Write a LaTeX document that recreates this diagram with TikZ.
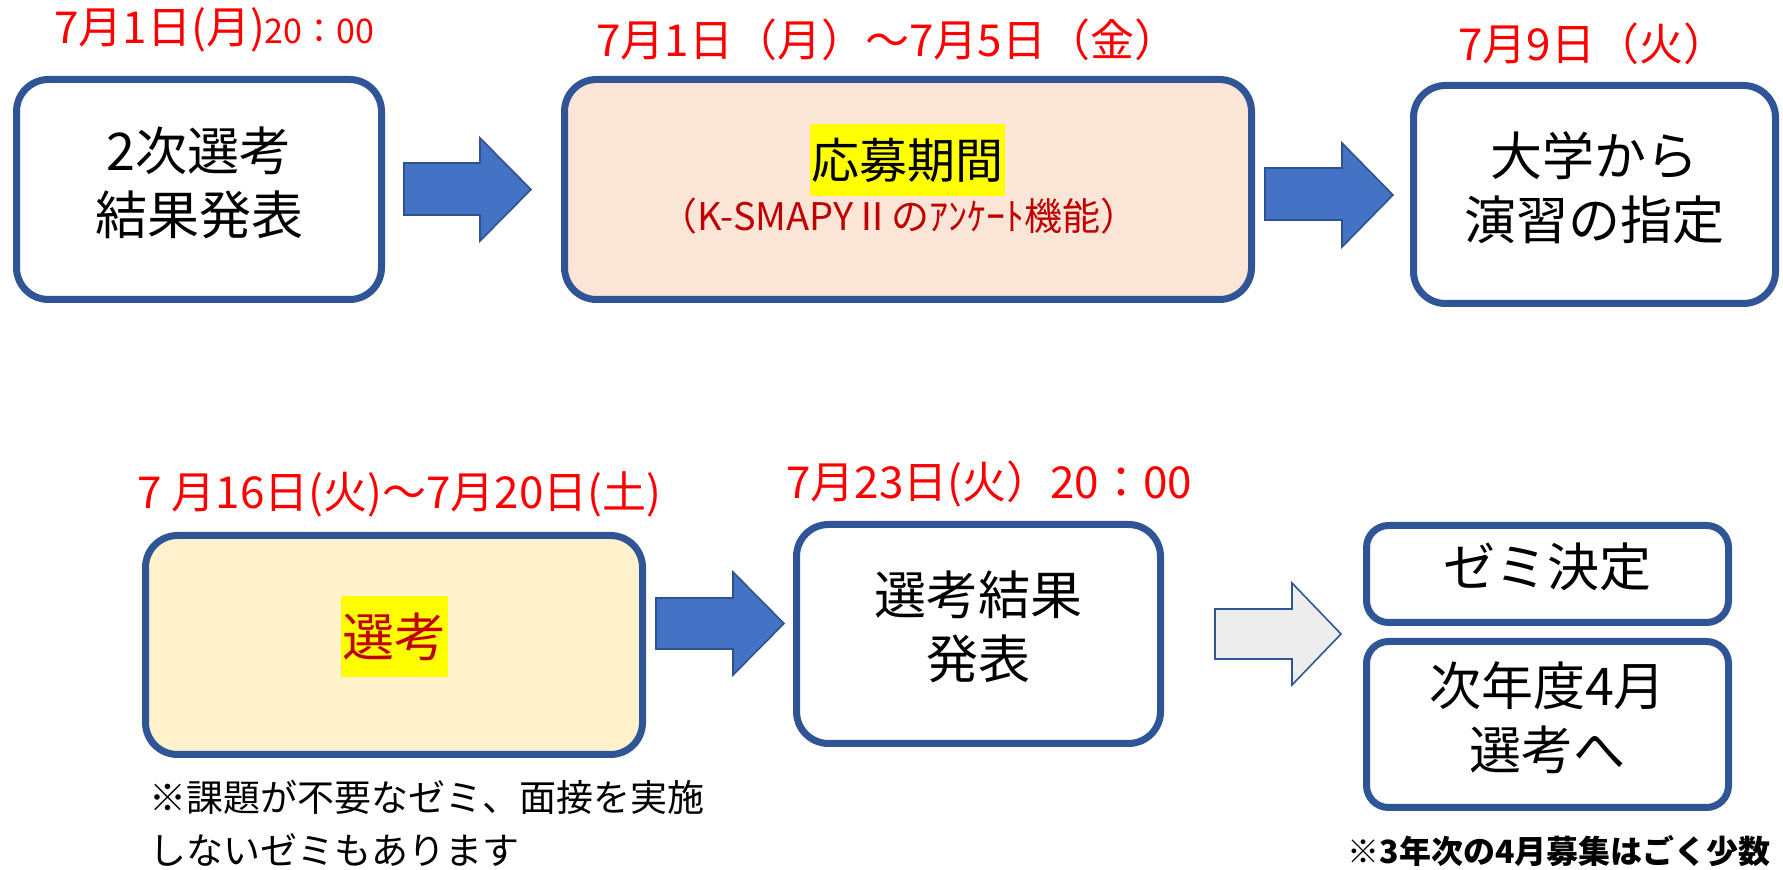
\documentclass[tikz,border=0pt]{standalone}
\usepackage{fontspec}
\setmainfont{Noto Sans CJK JP}
\definecolor{boxblue}{HTML}{2F5597}
\definecolor{arrowfill}{HTML}{4472C4}
\definecolor{arrowline}{HTML}{2F528F}
\definecolor{peach}{HTML}{FBE5D6}
\definecolor{cream}{HTML}{FFF2CC}
\definecolor{darkred}{HTML}{C00000}
\definecolor{lightgray}{HTML}{EDEDED}
\definecolor{hl}{HTML}{FFFF00}
\tikzset{
  stepbox/.style={draw=boxblue, line width=3.5pt, rounded corners=16pt, fill=white, inner sep=0pt},
  smallbox/.style={stepbox, rounded corners=11pt},
  boxtext/.style={align=center, inner sep=0pt, yshift=3.5pt, font=\fontsize{26pt}{32pt}\selectfont},
  datelabel/.style={text=red, font=\fontsize{22pt}{26pt}\selectfont, inner sep=0pt, anchor=west},
  bluearrow/.style={fill=arrowfill, draw=arrowline, line width=0.8pt, line join=miter},
  grayarrow/.style={fill=lightgray, draw=boxblue, line width=0.8pt, line join=miter},
  highlight/.style={fill=hl, inner xsep=0.8pt, inner ysep=0pt},
  note/.style={inner sep=0pt, align=left}
}
\begin{document}
\begin{tikzpicture}[x=0.5pt,y=-0.5pt]
\useasboundingbox (0,0) rectangle (1783,870);

% top row
\node[datelabel] (l1) at (54,30) {7月1日(月)\fontsize{17pt}{20pt}\selectfont 20：00};
\node[stepbox, minimum width=182.5pt, minimum height=110pt] (b1) at (199,189.5) {};
\node[boxtext] (t1) at (b1.center) {2次選考\\結果発表};

\draw[bluearrow] (404,163) -- (480,163) -- (480,138) -- (531,189.5) -- (480,241) -- (480,215) -- (404,215) -- cycle;

\node[datelabel] (l2) at (596,40) {7月1日（月）～7月5日（金）};
\node[stepbox, fill=peach, minimum width=343.5pt, minimum height=110pt] (b2) at (908,189.5) {};
\node[highlight, minimum height=36pt, font=\fontsize{24pt}{28pt}\selectfont] (t2) at (907.5,160) {応募期間};
\node[inner sep=0pt, text=darkred, font=\fontsize{19pt}{22pt}\selectfont] (s2) at (899,216) {（K-SMAPYⅡのｱﾝｹｰﾄ機能）};

\draw[bluearrow] (1265,168) -- (1342,168) -- (1342,143) -- (1393,195) -- (1342,247) -- (1342,220) -- (1265,220) -- cycle;

\node[datelabel] (l3) at (1458,44) {7月9日（火）};
\node[stepbox, minimum width=181pt, minimum height=109pt] (b3) at (1594.5,194.5) {};
\node[boxtext] (t3) at (b3.center) {大学から\\演習の指定};

% bottom row
\node[datelabel] (l4) at (137,494) {7 月16日(火)～7月20日(土)};
\node[stepbox, fill=cream, minimum width=248.5pt, minimum height=109.5pt] (b4) at (394,645) {};
\node[highlight, minimum height=40.5pt, text=darkred, font=\fontsize{26pt}{30pt}\selectfont] (t4) at (394.5,636.5) {選考};
\node[note, anchor=north west, font=\fontsize{18.5pt}{26.5pt}\selectfont] (n1) at (149,780) {※課題が不要なゼミ、面接を実施\\しないゼミもあります};

\draw[bluearrow] (656,598) -- (733,598) -- (733,572) -- (784,623.5) -- (733,675) -- (733,649) -- (656,649) -- cycle;

\node[datelabel] (l5) at (786,484) {7月23日(火）20：00};
\node[stepbox, minimum width=182pt, minimum height=109.5pt] (b5) at (978.5,634) {};
\node[boxtext] (t5) at (b5.center) {選考結果\\発表};

\draw[grayarrow] (1215,609) -- (1292,609) -- (1292,583) -- (1341,634) -- (1292,685) -- (1292,659) -- (1215,659) -- cycle;

\node[smallbox, minimum width=181pt, minimum height=48.5pt] (b6) at (1547.5,574) {};
\node[boxtext] (t6) at (b6.center) {ゼミ決定};
\node[smallbox, minimum width=181pt, minimum height=83pt] (b7) at (1547.5,724.5) {};
\node[boxtext] (t7) at (b7.center) {次年度4月\\選考へ};
\node[inner sep=0pt, anchor=east, font=\bfseries\fontsize{16pt}{20pt}\selectfont] (n2) at (1771,851) {※3年次の4月募集はごく少数};
\end{tikzpicture}
\end{document}
